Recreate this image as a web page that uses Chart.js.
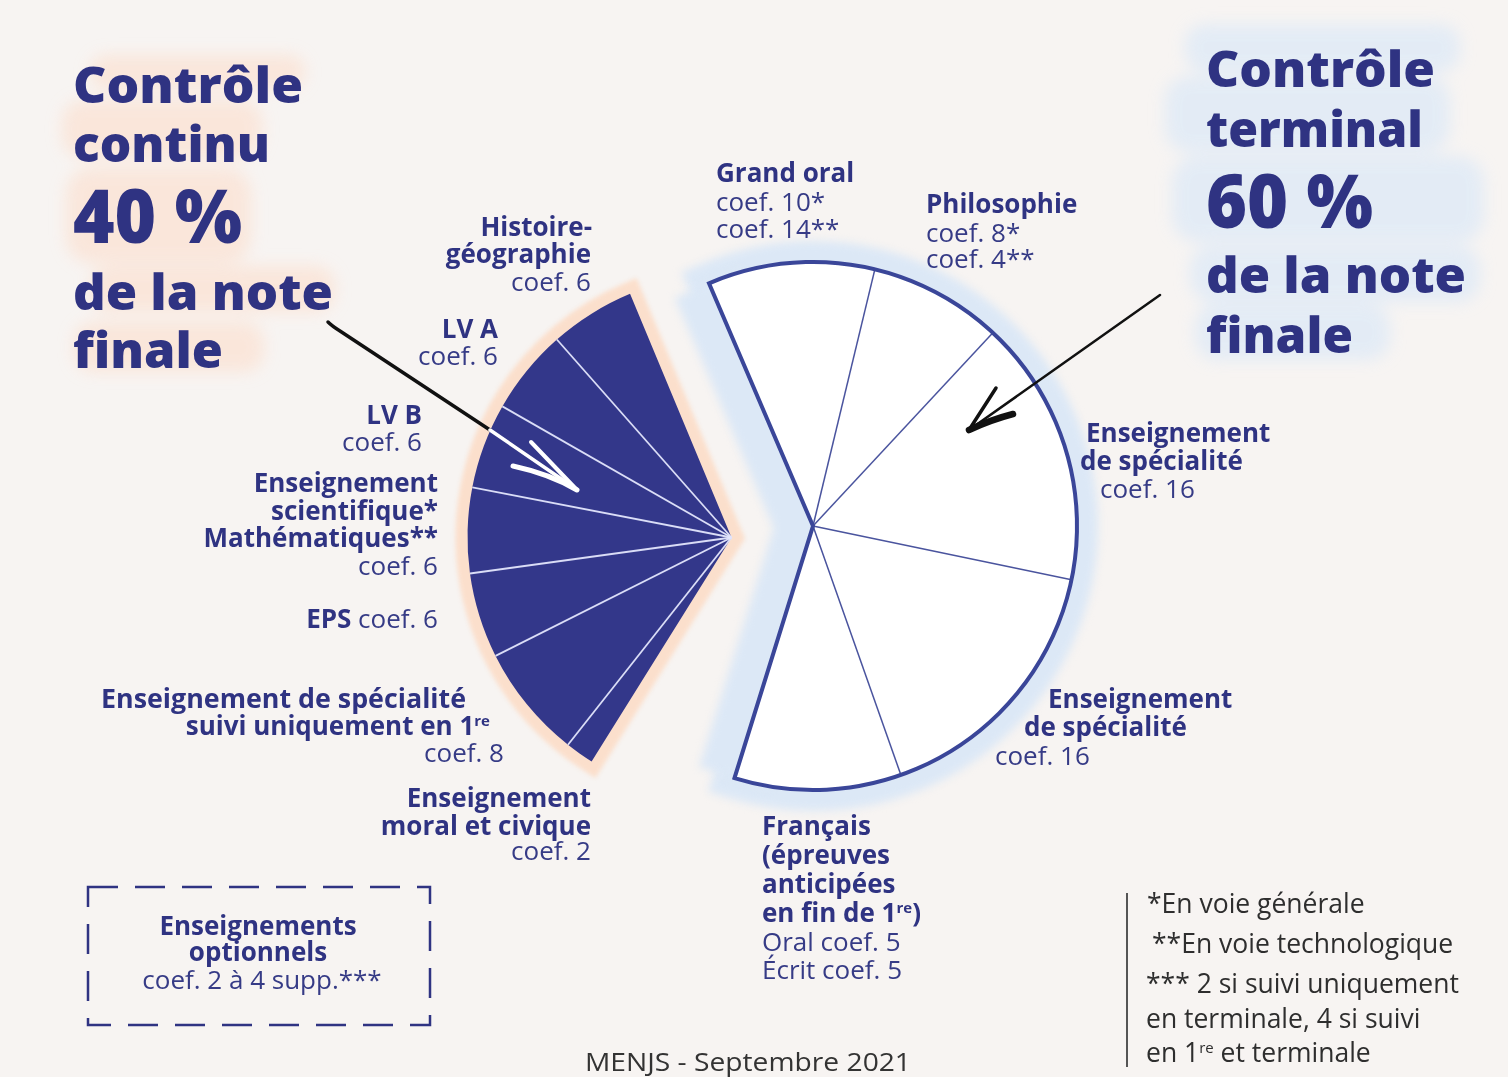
<!DOCTYPE html>
<html lang="fr">
<head>
<meta charset="utf-8">
<title>Contrôle continu / Contrôle terminal</title>
<script src="https://cdn.jsdelivr.net/npm/chart.js@4.4.0/dist/chart.umd.min.js"></script>
<style>
  html, body { margin:0; padding:0; width:1508px; height:1077px; overflow:hidden; background:#f7f4f2; }
  .layer { position:absolute; left:0; top:0; width:1508px; height:1077px; }
  #fg { pointer-events:none; }
  #fg text { font-family:'Open Sans','Noto Sans',sans-serif; fill:#2f3382; font-size:26px; }
  #fg .b { font-weight:700; }
  #fg .r { font-weight:400; fill:#363b86; }
  #fg .t { font-weight:800; font-size:50px; }
  #fg .p { font-weight:800; font-size:74px; }
  #fg .n { fill:#2e2e2e; font-size:26.5px; font-weight:400; }
</style>
</head>
<body>
<svg id="bg" class="layer" width="1508" height="1077" xmlns="http://www.w3.org/2000/svg">
  <defs>
    <filter id="soft" x="-30%" y="-30%" width="160%" height="160%"><feGaussianBlur stdDeviation="8"/></filter>
  </defs>
  <g filter="url(#soft)" fill="#fbe3d5" opacity="0.8">
    <rect x="90" y="55" width="215" height="34" rx="16"/>
    <rect x="62" y="100" width="200" height="58" rx="22"/>
    <rect x="66" y="168" width="185" height="95" rx="26"/>
    <rect x="90" y="266" width="245" height="46" rx="20"/>
    <rect x="74" y="322" width="190" height="50" rx="20"/>
  </g>
  <g filter="url(#soft)" fill="#dde9f7" opacity="0.75">
    <rect x="1185" y="24" width="275" height="48" rx="20"/>
    <rect x="1165" y="76" width="285" height="76" rx="24"/>
    <rect x="1172" y="156" width="312" height="86" rx="26"/>
    <rect x="1190" y="246" width="290" height="56" rx="22"/>
    <rect x="1195" y="304" width="195" height="56" rx="22"/>
  </g>
</svg>
<canvas id="terminal" class="layer" width="1508" height="1077"></canvas>
<canvas id="continu" class="layer" width="1508" height="1077"></canvas>
<svg id="fg" class="layer" width="1508" height="1077" xmlns="http://www.w3.org/2000/svg">
  <!-- Titles -->
  <text class="t" x="73" y="103" textLength="230" lengthAdjust="spacingAndGlyphs">Contrôle</text>
  <text class="t" x="73" y="162" textLength="197" lengthAdjust="spacingAndGlyphs">continu</text>
  <text class="p" x="73" y="243" textLength="169" lengthAdjust="spacingAndGlyphs">40 %</text>
  <text class="t" x="73" y="310" textLength="260" lengthAdjust="spacingAndGlyphs">de la note</text>
  <text class="t" x="73" y="368" textLength="150" lengthAdjust="spacingAndGlyphs">finale</text>

  <text class="t" x="1206" y="87" textLength="229" lengthAdjust="spacingAndGlyphs">Contrôle</text>
  <text class="t" x="1206" y="147" textLength="217" lengthAdjust="spacingAndGlyphs">terminal</text>
  <text class="p" x="1206" y="228" textLength="167" lengthAdjust="spacingAndGlyphs">60 %</text>
  <text class="t" x="1206" y="293" textLength="260" lengthAdjust="spacingAndGlyphs">de la note</text>
  <text class="t" x="1206" y="353" textLength="147" lengthAdjust="spacingAndGlyphs">finale</text>

  <!-- Contrôle continu labels -->
  <text class="b" x="592" y="236" text-anchor="end">Histoire-</text>
  <text class="b" x="591" y="263" text-anchor="end">géographie</text>
  <text class="r" x="591" y="291" text-anchor="end">coef. 6</text>

  <text class="b" x="498" y="338" text-anchor="end">LV A</text>
  <text class="r" x="498" y="365" text-anchor="end">coef. 6</text>

  <text class="b" x="422" y="424" text-anchor="end">LV B</text>
  <text class="r" x="422" y="451" text-anchor="end">coef. 6</text>

  <text class="b" x="438" y="492" text-anchor="end">Enseignement</text>
  <text class="b" x="438" y="520" text-anchor="end">scientifique*</text>
  <text class="b" x="438" y="547" text-anchor="end">Mathématiques**</text>
  <text class="r" x="438" y="575" text-anchor="end">coef. 6</text>

  <text x="438" y="628" text-anchor="end"><tspan class="b">EPS</tspan><tspan class="r"> coef. 6</tspan></text>

  <text class="b" x="101" y="708" textLength="365" lengthAdjust="spacingAndGlyphs">Enseignement de spécialité</text>
  <text class="b" x="490" y="735" text-anchor="end">suivi uniquement en 1<tspan font-size="15" baseline-shift="9">re</tspan></text>
  <text class="r" x="504" y="762" text-anchor="end">coef. 8</text>

  <text class="b" x="591" y="807" text-anchor="end">Enseignement</text>
  <text class="b" x="591" y="835" text-anchor="end">moral et civique</text>
  <text class="r" x="591" y="860" text-anchor="end">coef. 2</text>

  <!-- Contrôle terminal labels -->
  <text class="b" x="716" y="182">Grand oral</text>
  <text class="r" x="716" y="211">coef. 10*</text>
  <text class="r" x="716" y="238">coef. 14**</text>

  <text class="b" x="926" y="213">Philosophie</text>
  <text class="r" x="926" y="242">coef. 8*</text>
  <text class="r" x="926" y="268">coef. 4**</text>

  <text class="b" x="1086" y="442">Enseignement</text>
  <text class="b" x="1080" y="470">de spécialité</text>
  <text class="r" x="1100" y="498">coef. 16</text>

  <text class="b" x="1048" y="708">Enseignement</text>
  <text class="b" x="1024" y="736">de spécialité</text>
  <text class="r" x="995" y="765">coef. 16</text>

  <text class="b" x="762" y="835">Français</text>
  <text class="b" x="762" y="864">(épreuves</text>
  <text class="b" x="762" y="893">anticipées</text>
  <text class="b" x="762" y="922">en fin de 1<tspan font-size="15" baseline-shift="9">re</tspan>)</text>
  <text class="r" x="762" y="951">Oral coef. 5</text>
  <text class="r" x="762" y="979">Écrit coef. 5</text>

  <!-- Optional courses box -->
  <rect x="88" y="887" width="342" height="138" fill="none" stroke="#2f3382" stroke-width="2.5" stroke-dasharray="30 17"/>
  <text class="b" x="258" y="935" text-anchor="middle">Enseignements</text>
  <text class="b" x="258" y="961" text-anchor="middle">optionnels</text>
  <text class="r" x="262" y="989" text-anchor="middle">coef. 2 à 4 supp.***</text>

  <!-- Footnotes -->
  <line x1="1127" y1="893" x2="1127" y2="1067" stroke="#555" stroke-width="2"/>
  <text class="n" x="1147" y="913">*En voie générale</text>
  <text class="n" x="1152" y="953">**En voie technologique</text>
  <text class="n" x="1146" y="993">*** 2 si suivi uniquement</text>
  <text class="n" x="1146" y="1028">en terminale, 4 si suivi</text>
  <text class="n" x="1146" y="1062">en 1<tspan font-size="15" baseline-shift="9">re</tspan> et terminale</text>

  <text class="n" x="748" y="1071" text-anchor="middle" textLength="326" lengthAdjust="spacingAndGlyphs" style="font-size:26px;fill:#333">MENJS - Septembre 2021</text>

  <!-- Arrows -->
  <path d="M 328 322 Q 332 326 340 331 L 490 430" fill="none" stroke="#111" stroke-width="3.5" stroke-linecap="round"/>
  <path d="M 490 430 L 576 489" fill="none" stroke="#fff" stroke-width="3.5" stroke-linecap="round"/>
  <path d="M 513 466 Q 550 474 577 490" fill="none" stroke="#fff" stroke-width="5" stroke-linecap="round"/>
  <path d="M 531 442 Q 556 468 577 490" fill="none" stroke="#fff" stroke-width="4" stroke-linecap="round"/>

  <path d="M 1160 295 L 969 430" fill="none" stroke="#111" stroke-width="2.5" stroke-linecap="round"/>
  <path d="M 969 430 L 996 388" fill="none" stroke="#111" stroke-width="3.5" stroke-linecap="round"/>
  <path d="M 969 430 Q 990 420 1013 414" fill="none" stroke="#111" stroke-width="6.5" stroke-linecap="round"/>
</svg>

<script>
// ---- Data ----
// Contrôle continu (40 %), listed clockwise from the bottom of the left sector
const continuLabels = [
  'Enseignement moral et civique',
  'Enseignement de spécialité suivi uniquement en 1re',
  'EPS',
  'Enseignement scientifique* / Mathématiques**',
  'LV B',
  'LV A',
  'Histoire-géographie'
];
const continuCoefs = [2, 8, 6, 6, 6, 6, 6];

// Contrôle terminal (60 %), listed clockwise from the top of the right sector
const terminalLabels = [
  'Grand oral',
  'Philosophie',
  'Enseignement de spécialité',
  'Enseignement de spécialité',
  'Français (épreuves anticipées en fin de 1re)'
];
const terminalCoefs = [10, 8, 16, 16, 10];

// ---- Styling ----
const NAVY = '#33378a';

function sector(chart) {
  const arcs = chart.getDatasetMeta(0).data;
  const a0 = arcs[0], aN = arcs[arcs.length - 1];
  return { x: a0.x, y: a0.y, r: a0.outerRadius, start: a0.startAngle, end: aN.endAngle, arcs };
}
function sectorPath(ctx, g) {
  ctx.beginPath();
  ctx.moveTo(g.x, g.y);
  ctx.lineTo(g.x + g.r * Math.cos(g.start), g.y + g.r * Math.sin(g.start));
  ctx.arc(g.x, g.y, g.r, g.start, g.end);
  ctx.closePath();
}

const continuDeco = {
  id: 'continuDeco',
  beforeDatasetsDraw(chart) {
    const ctx = chart.ctx, g = sector(chart);
    ctx.save();
    ctx.filter = 'blur(2px)';
    ctx.strokeStyle = '#fbdfcc';
    ctx.lineWidth = 24;
    ctx.lineJoin = 'miter';
    sectorPath(ctx, g);
    ctx.stroke();
    ctx.restore();
  },
  afterDatasetsDraw(chart) {
    const ctx = chart.ctx, g = sector(chart);
    ctx.save();
    ctx.strokeStyle = 'rgba(226,229,252,0.95)';
    ctx.lineWidth = 1.8;
    for (let i = 1; i < g.arcs.length; i++) {
      const a = g.arcs[i].startAngle;
      ctx.beginPath();
      ctx.moveTo(g.x, g.y);
      ctx.lineTo(g.x + g.r * Math.cos(a), g.y + g.r * Math.sin(a));
      ctx.stroke();
    }
    ctx.restore();
  }
};

const terminalDeco = {
  id: 'terminalDeco',
  beforeDatasetsDraw(chart) {
    const ctx = chart.ctx, g = sector(chart);
    ctx.save();
    ctx.filter = 'blur(4px)';
    ctx.strokeStyle = '#dce8f6';
    ctx.lineJoin = 'miter';
    ctx.lineWidth = 42;
    sectorPath(ctx, g);
    ctx.stroke();
    ctx.lineWidth = 74;
    ctx.beginPath();
    ctx.moveTo(g.x + g.r * Math.cos(g.start), g.y + g.r * Math.sin(g.start));
    ctx.lineTo(g.x, g.y);
    ctx.lineTo(g.x + g.r * Math.cos(g.end), g.y + g.r * Math.sin(g.end));
    ctx.stroke();
    ctx.restore();
  },
  afterDatasetsDraw(chart) {
    const ctx = chart.ctx, g = sector(chart);
    ctx.save();
    ctx.strokeStyle = '#4a549e';
    ctx.lineWidth = 1.5;
    for (let i = 1; i < g.arcs.length; i++) {
      const a = g.arcs[i].startAngle;
      ctx.beginPath();
      ctx.moveTo(g.x, g.y);
      ctx.lineTo(g.x + g.r * Math.cos(a), g.y + g.r * Math.sin(a));
      ctx.stroke();
    }
    ctx.strokeStyle = '#3a4699';
    ctx.lineWidth = 4;
    ctx.lineJoin = 'miter';
    sectorPath(ctx, g);
    ctx.stroke();
    ctx.restore();
  }
};

function makeSector(id, labels, values, cfg) {
  const chart = new Chart(document.getElementById(id), {
    type: 'pie',
    data: {
      labels: labels,
      datasets: [{
        data: values,
        backgroundColor: cfg.fill,
        borderWidth: 0,
        hoverOffset: 0,
        clip: false
      }]
    },
    options: {
      responsive: false,
      animation: false,
      devicePixelRatio: 1,
      events: [],
      rotation: cfg.rotation,
      circumference: cfg.circumference,
      radius: cfg.radius,
      layout: { padding: 0 },
      plugins: { legend: { display: false }, tooltip: { enabled: false } }
    },
    plugins: [cfg.plugin]
  });
  // shift the chart area so the sector's centre sits at the wanted spot
  const a = chart.getDatasetMeta(0).data[0];
  const dx = cfg.cx - a.x, dy = cfg.cy - a.y;
  chart.options.layout.padding = {
    left: Math.max(0, 2 * dx), right: Math.max(0, -2 * dx),
    top: Math.max(0, 2 * dy), bottom: Math.max(0, -2 * dy)
  };
  chart.update('none');
  return chart;
}

makeSector('terminal', terminalLabels, terminalCoefs, {
  fill: '#ffffff', rotation: 336.8, circumference: 220.5, radius: 264,
  cx: 813, cy: 526, plugin: terminalDeco
});
makeSector('continu', continuLabels, continuCoefs, {
  fill: NAVY, rotation: 212, circumference: 125.4, radius: 264,
  cx: 731.5, cy: 537.5, plugin: continuDeco
});
</script>
</body>
</html>
